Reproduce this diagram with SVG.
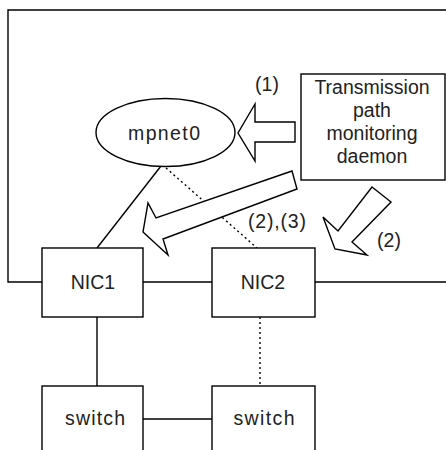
<svg xmlns="http://www.w3.org/2000/svg" width="446" height="450" viewBox="0 0 446 450">
<style>
.b{fill:#fff;stroke:#000;stroke-width:1.4}
.l{fill:none;stroke:#000;stroke-width:1.4}
.d{fill:none;stroke:#000;stroke-width:1.4;stroke-dasharray:2,3}
text{font-family:"Liberation Sans",Arial,sans-serif;font-size:19.5px;fill:#222;text-anchor:middle}
</style>
<rect width="446" height="450" fill="#fff"/>
<g id="connectors">
<path class="l" d="M446,10 H8 V282 H42"/>
<path class="l" d="M143,282 H212 M315,282 H446"/>
<path class="l" d="M97,317 V386 M143,419 H212"/>
<path class="d" d="M260,317 V386"/>
<path class="l" d="M161,166 L97,248"/>
<path class="d" d="M166,168 L257,248"/>
</g>
<g id="mpnet0">
<ellipse class="b" cx="165.5" cy="132.5" rx="69.5" ry="34"/>
<text x="164" y="140" textLength="72" lengthAdjust="spacing">mpnet0</text>
</g>
<g id="daemon">
<rect class="b" x="301" y="74" width="144" height="106"/>
<text x="372" y="94">Transmission</text>
<text x="372" y="117">path</text>
<text x="372" y="140">monitoring</text>
<text x="372" y="163">daemon</text>
</g>
<g id="NIC1">
<rect class="b" x="42" y="248" width="101" height="69"/>
<text x="93" y="289">NIC1</text>
</g>
<g id="NIC2">
<rect class="b" x="212" y="248" width="103" height="69"/>
<text x="263" y="289">NIC2</text>
</g>
<g id="switch1">
<rect class="b" x="42" y="386" width="101" height="80"/>
<text x="95" y="425" textLength="60" lengthAdjust="spacing">switch</text>
</g>
<g id="switch2">
<rect class="b" x="212" y="386" width="103" height="80"/>
<text x="264" y="425" textLength="61" lengthAdjust="spacing">switch</text>
</g>
<g id="arrows">
<polygon class="b" points="295,122 255,122 255,104 238,133 255,161 255,142 295,142"/>
<polygon class="b" points="292,171 297,189 163,239 168,255 143,232 148,203 156,218"/>
<polygon class="b" points="372,187 391,202 352,242 367,255 335,249 323,217 338,231"/>
</g>
<g id="labels">
<text x="267" y="91">(1)</text>
<text x="277" y="228" textLength="58" lengthAdjust="spacing">(2),(3)</text>
<text x="389" y="247">(2)</text>
</g>
</svg>
